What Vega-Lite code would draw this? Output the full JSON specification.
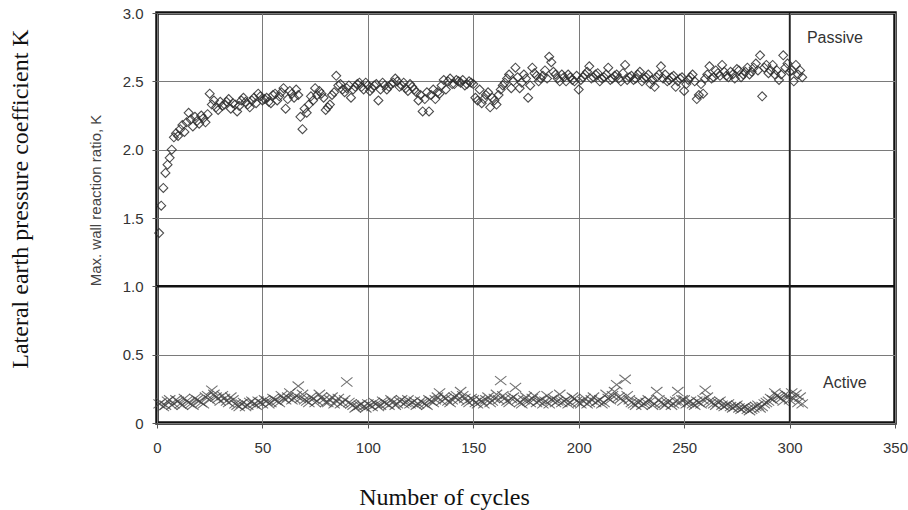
{
"$schema": "https://vega.github.io/schema/vega-lite/v6.json",
"width": 738,
"height": 410,
"autosize": {"type": "none"},
"padding": {"left": 157, "top": 13, "right": 13, "bottom": 87},
"background": "white",
"title": {"text": "Lateral earth pressure coefficient K", "orient": "left", "anchor": "middle", "font": "Liberation Serif", "fontSize": 24, "fontWeight": "normal", "color": "#111", "offset": 55, "dx": 19},
"config": {"view": {"stroke": "#111", "strokeWidth": 3.5, "fill": "white"}},
"datasets": {
"passive": [
{"c":1,"k":1.39},{"c":2,"k":1.59},{"c":3,"k":1.72},{"c":4,"k":1.83},{"c":5,"k":1.89},{"c":6,"k":1.94},{"c":7,"k":2.0},{"c":8,"k":2.09},{"c":9,"k":2.12},{"c":10,"k":2.1},
{"c":11,"k":2.15},{"c":12,"k":2.18},{"c":13,"k":2.13},{"c":14,"k":2.2},{"c":15,"k":2.27},{"c":16,"k":2.22},{"c":17,"k":2.17},{"c":18,"k":2.24},{"c":19,"k":2.21},{"c":20,"k":2.19},
{"c":21,"k":2.25},{"c":22,"k":2.23},{"c":23,"k":2.2},{"c":24,"k":2.26},{"c":25,"k":2.41},{"c":26,"k":2.33},{"c":27,"k":2.36},{"c":28,"k":2.31},{"c":29,"k":2.29},{"c":30,"k":2.35},
{"c":32,"k":2.33},{"c":34,"k":2.37},{"c":36,"k":2.34},{"c":38,"k":2.28},{"c":40,"k":2.36},{"c":42,"k":2.35},{"c":44,"k":2.31},{"c":46,"k":2.38},{"c":48,"k":2.41},{"c":50,"k":2.36},
{"c":52,"k":2.38},{"c":54,"k":2.34},{"c":56,"k":2.41},{"c":58,"k":2.39},{"c":60,"k":2.45},{"c":61,"k":2.3},{"c":62,"k":2.37},{"c":64,"k":2.41},{"c":66,"k":2.44},{"c":67,"k":2.4},
{"c":68,"k":2.24},{"c":69,"k":2.15},{"c":70,"k":2.3},{"c":72,"k":2.33},{"c":74,"k":2.36},{"c":75,"k":2.45},{"c":76,"k":2.4},{"c":78,"k":2.41},{"c":80,"k":2.29},{"c":82,"k":2.33},
{"c":84,"k":2.42},{"c":85,"k":2.54},{"c":86,"k":2.47},{"c":88,"k":2.44},{"c":90,"k":2.45},{"c":92,"k":2.38},{"c":94,"k":2.46},{"c":96,"k":2.49},{"c":98,"k":2.44},{"c":100,"k":2.47},
{"c":102,"k":2.45},{"c":104,"k":2.48},{"c":105,"k":2.36},{"c":106,"k":2.44},{"c":108,"k":2.47},{"c":110,"k":2.46},{"c":112,"k":2.49},{"c":113,"k":2.52},{"c":114,"k":2.5},{"c":116,"k":2.47},
{"c":118,"k":2.45},{"c":120,"k":2.48},{"c":122,"k":2.44},{"c":124,"k":2.36},{"c":126,"k":2.28},{"c":128,"k":2.42},{"c":129,"k":2.28},{"c":130,"k":2.4},{"c":132,"k":2.37},{"c":134,"k":2.41},
{"c":136,"k":2.51},{"c":137,"k":2.44},{"c":138,"k":2.5},{"c":140,"k":2.48},{"c":142,"k":2.51},{"c":144,"k":2.49},{"c":146,"k":2.47},{"c":148,"k":2.5},{"c":150,"k":2.48},{"c":151,"k":2.38},
{"c":152,"k":2.36},{"c":154,"k":2.34},{"c":156,"k":2.4},{"c":158,"k":2.31},{"c":160,"k":2.36},{"c":162,"k":2.4},{"c":164,"k":2.47},{"c":166,"k":2.52},{"c":168,"k":2.45},{"c":170,"k":2.6},
{"c":172,"k":2.45},{"c":174,"k":2.55},{"c":176,"k":2.38},{"c":178,"k":2.6},{"c":180,"k":2.54},{"c":182,"k":2.52},{"c":184,"k":2.58},{"c":186,"k":2.68},{"c":187,"k":2.64},{"c":188,"k":2.57},
{"c":190,"k":2.52},{"c":192,"k":2.55},{"c":194,"k":2.5},{"c":196,"k":2.53},{"c":198,"k":2.5},{"c":200,"k":2.44},{"c":202,"k":2.53},{"c":204,"k":2.57},{"c":205,"k":2.61},{"c":206,"k":2.52},
{"c":208,"k":2.55},{"c":210,"k":2.5},{"c":212,"k":2.53},{"c":214,"k":2.6},{"c":216,"k":2.52},{"c":218,"k":2.55},{"c":220,"k":2.5},{"c":222,"k":2.62},{"c":224,"k":2.53},{"c":226,"k":2.51},
{"c":228,"k":2.55},{"c":230,"k":2.5},{"c":232,"k":2.53},{"c":234,"k":2.48},{"c":236,"k":2.46},{"c":238,"k":2.55},{"c":239,"k":2.61},{"c":240,"k":2.52},{"c":242,"k":2.5},{"c":244,"k":2.53},
{"c":246,"k":2.46},{"c":248,"k":2.52},{"c":250,"k":2.43},{"c":252,"k":2.51},{"c":254,"k":2.55},{"c":256,"k":2.37},{"c":258,"k":2.48},{"c":259,"k":2.41},{"c":260,"k":2.52},{"c":262,"k":2.61},
{"c":264,"k":2.53},{"c":266,"k":2.56},{"c":268,"k":2.62},{"c":270,"k":2.54},{"c":272,"k":2.57},{"c":274,"k":2.52},{"c":276,"k":2.58},{"c":278,"k":2.55},{"c":280,"k":2.6},{"c":282,"k":2.57},
{"c":284,"k":2.63},{"c":286,"k":2.69},{"c":287,"k":2.39},{"c":288,"k":2.6},{"c":290,"k":2.56},{"c":292,"k":2.62},{"c":294,"k":2.58},{"c":295,"k":2.51},{"c":296,"k":2.55},{"c":297,"k":2.69},
{"c":298,"k":2.6},{"c":300,"k":2.57},{"c":301,"k":2.58},{"c":302,"k":2.5},{"c":303,"k":2.62},{"c":304,"k":2.55},{"c":305,"k":2.58},{"c":306,"k":2.53},
{"c":31,"k":2.32},{"c":33,"k":2.35},{"c":35,"k":2.3},{"c":37,"k":2.33},{"c":39,"k":2.32},{"c":41,"k":2.38},{"c":43,"k":2.33},{"c":45,"k":2.36},{"c":47,"k":2.34},{"c":49,"k":2.39},
{"c":51,"k":2.37},{"c":53,"k":2.35},{"c":55,"k":2.4},{"c":57,"k":2.36},{"c":59,"k":2.42},{"c":63,"k":2.43},{"c":65,"k":2.38},{"c":71,"k":2.27},{"c":73,"k":2.39},{"c":77,"k":2.43},
{"c":79,"k":2.38},{"c":81,"k":2.31},{"c":83,"k":2.4},{"c":87,"k":2.48},{"c":89,"k":2.42},{"c":91,"k":2.47},{"c":93,"k":2.44},{"c":95,"k":2.48},{"c":97,"k":2.46},{"c":99,"k":2.49},
{"c":101,"k":2.43},{"c":103,"k":2.47},{"c":107,"k":2.49},{"c":109,"k":2.44},{"c":111,"k":2.48},{"c":115,"k":2.46},{"c":117,"k":2.49},{"c":119,"k":2.43},{"c":121,"k":2.46},{"c":123,"k":2.42},
{"c":125,"k":2.4},{"c":127,"k":2.37},{"c":131,"k":2.44},{"c":133,"k":2.42},{"c":135,"k":2.47},{"c":139,"k":2.52},{"c":141,"k":2.48},{"c":143,"k":2.5},{"c":145,"k":2.51},{"c":147,"k":2.48},
{"c":149,"k":2.49},{"c":153,"k":2.44},{"c":155,"k":2.37},{"c":157,"k":2.42},{"c":159,"k":2.38},{"c":161,"k":2.33},{"c":163,"k":2.44},{"c":165,"k":2.49},{"c":167,"k":2.55},{"c":169,"k":2.5},
{"c":171,"k":2.53},{"c":173,"k":2.49},{"c":175,"k":2.52},{"c":177,"k":2.47},{"c":179,"k":2.56},{"c":181,"k":2.5},{"c":183,"k":2.54},{"c":185,"k":2.52},{"c":189,"k":2.55},{"c":191,"k":2.5},
{"c":193,"k":2.53},{"c":195,"k":2.55},{"c":197,"k":2.51},{"c":199,"k":2.54},{"c":201,"k":2.51},{"c":203,"k":2.55},{"c":207,"k":2.53},{"c":209,"k":2.56},{"c":211,"k":2.52},{"c":213,"k":2.55},
{"c":215,"k":2.51},{"c":217,"k":2.54},{"c":219,"k":2.52},{"c":221,"k":2.56},{"c":223,"k":2.51},{"c":225,"k":2.54},{"c":227,"k":2.52},{"c":229,"k":2.57},{"c":231,"k":2.52},{"c":233,"k":2.55},
{"c":235,"k":2.51},{"c":237,"k":2.53},{"c":241,"k":2.55},{"c":243,"k":2.51},{"c":245,"k":2.54},{"c":247,"k":2.5},{"c":249,"k":2.53},{"c":251,"k":2.48},{"c":253,"k":2.53},{"c":255,"k":2.5},
{"c":257,"k":2.4},{"c":261,"k":2.55},{"c":263,"k":2.52},{"c":265,"k":2.58},{"c":267,"k":2.54},{"c":269,"k":2.57},{"c":271,"k":2.53},{"c":273,"k":2.55},{"c":275,"k":2.59},{"c":277,"k":2.53},
{"c":279,"k":2.57},{"c":281,"k":2.55},{"c":283,"k":2.6},{"c":285,"k":2.58},{"c":289,"k":2.62},{"c":291,"k":2.58},{"c":293,"k":2.55},{"c":299,"k":2.63}
],
"active": [
{"c":1,"k":0.14},{"c":3,"k":0.12},{"c":5,"k":0.16},{"c":7,"k":0.13},{"c":9,"k":0.17},{"c":11,"k":0.14},{"c":13,"k":0.18},{"c":15,"k":0.15},{"c":17,"k":0.13},{"c":19,"k":0.17},
{"c":21,"k":0.15},{"c":23,"k":0.19},{"c":25,"k":0.17},{"c":26,"k":0.24},{"c":27,"k":0.21},{"c":29,"k":0.18},{"c":31,"k":0.2},{"c":33,"k":0.16},{"c":35,"k":0.19},{"c":37,"k":0.14},
{"c":39,"k":0.12},{"c":41,"k":0.15},{"c":43,"k":0.13},{"c":45,"k":0.16},{"c":47,"k":0.13},{"c":49,"k":0.15},{"c":51,"k":0.17},{"c":53,"k":0.14},{"c":55,"k":0.18},{"c":57,"k":0.16},
{"c":59,"k":0.2},{"c":61,"k":0.17},{"c":63,"k":0.22},{"c":65,"k":0.18},{"c":67,"k":0.27},{"c":69,"k":0.21},{"c":71,"k":0.16},{"c":73,"k":0.19},{"c":75,"k":0.15},{"c":77,"k":0.21},
{"c":79,"k":0.17},{"c":81,"k":0.15},{"c":83,"k":0.19},{"c":85,"k":0.16},{"c":87,"k":0.14},{"c":89,"k":0.17},{"c":90,"k":0.3},{"c":91,"k":0.15},{"c":93,"k":0.13},{"c":95,"k":0.12},
{"c":97,"k":0.14},{"c":99,"k":0.11},{"c":101,"k":0.13},{"c":103,"k":0.15},{"c":105,"k":0.12},{"c":107,"k":0.16},{"c":109,"k":0.14},{"c":111,"k":0.17},{"c":113,"k":0.13},{"c":115,"k":0.16},
{"c":117,"k":0.14},{"c":119,"k":0.17},{"c":121,"k":0.15},{"c":123,"k":0.13},{"c":125,"k":0.16},{"c":127,"k":0.14},{"c":129,"k":0.17},{"c":131,"k":0.15},{"c":133,"k":0.19},{"c":134,"k":0.22},
{"c":135,"k":0.16},{"c":137,"k":0.18},{"c":139,"k":0.15},{"c":141,"k":0.19},{"c":143,"k":0.17},{"c":144,"k":0.23},{"c":145,"k":0.2},{"c":147,"k":0.16},{"c":149,"k":0.18},{"c":151,"k":0.15},
{"c":153,"k":0.17},{"c":155,"k":0.14},{"c":157,"k":0.19},{"c":159,"k":0.16},{"c":161,"k":0.21},{"c":163,"k":0.31},{"c":165,"k":0.18},{"c":167,"k":0.15},{"c":169,"k":0.19},{"c":170,"k":0.26},
{"c":171,"k":0.17},{"c":173,"k":0.14},{"c":175,"k":0.19},{"c":177,"k":0.15},{"c":179,"k":0.2},{"c":181,"k":0.16},{"c":183,"k":0.14},{"c":185,"k":0.2},{"c":187,"k":0.17},{"c":189,"k":0.15},
{"c":191,"k":0.21},{"c":193,"k":0.16},{"c":195,"k":0.14},{"c":197,"k":0.19},{"c":199,"k":0.16},{"c":201,"k":0.14},{"c":203,"k":0.18},{"c":205,"k":0.15},{"c":207,"k":0.19},{"c":209,"k":0.16},
{"c":211,"k":0.14},{"c":213,"k":0.21},{"c":215,"k":0.17},{"c":217,"k":0.23},{"c":218,"k":0.28},{"c":219,"k":0.19},{"c":221,"k":0.16},{"c":222,"k":0.32},{"c":223,"k":0.2},{"c":225,"k":0.15},
{"c":227,"k":0.13},{"c":229,"k":0.16},{"c":231,"k":0.14},{"c":233,"k":0.17},{"c":235,"k":0.13},{"c":237,"k":0.23},{"c":239,"k":0.15},{"c":241,"k":0.13},{"c":243,"k":0.16},{"c":245,"k":0.14},
{"c":247,"k":0.23},{"c":249,"k":0.17},{"c":251,"k":0.14},{"c":253,"k":0.16},{"c":255,"k":0.13},{"c":257,"k":0.15},{"c":259,"k":0.17},{"c":260,"k":0.24},{"c":261,"k":0.19},{"c":263,"k":0.15},
{"c":265,"k":0.13},{"c":267,"k":0.16},{"c":269,"k":0.12},{"c":271,"k":0.14},{"c":273,"k":0.11},{"c":275,"k":0.13},{"c":277,"k":0.1},{"c":279,"k":0.12},{"c":281,"k":0.09},{"c":283,"k":0.11},
{"c":285,"k":0.13},{"c":287,"k":0.12},{"c":289,"k":0.15},{"c":291,"k":0.18},{"c":293,"k":0.22},{"c":295,"k":0.19},{"c":297,"k":0.16},{"c":299,"k":0.2},{"c":301,"k":0.22},{"c":302,"k":0.18},
{"c":303,"k":0.21},{"c":304,"k":0.15},{"c":305,"k":0.19},{"c":306,"k":0.14},
{"c":2,"k":0.15},{"c":4,"k":0.13},{"c":6,"k":0.17},{"c":8,"k":0.14},{"c":10,"k":0.16},{"c":12,"k":0.13},{"c":14,"k":0.16},{"c":16,"k":0.14},{"c":18,"k":0.18},{"c":20,"k":0.16},
{"c":22,"k":0.14},{"c":24,"k":0.2},{"c":28,"k":0.19},{"c":30,"k":0.16},{"c":32,"k":0.18},{"c":34,"k":0.15},{"c":36,"k":0.17},{"c":38,"k":0.13},{"c":40,"k":0.14},{"c":42,"k":0.12},
{"c":44,"k":0.15},{"c":46,"k":0.14},{"c":48,"k":0.16},{"c":50,"k":0.14},{"c":52,"k":0.16},{"c":54,"k":0.15},{"c":56,"k":0.17},{"c":58,"k":0.15},{"c":60,"k":0.18},{"c":62,"k":0.19},
{"c":64,"k":0.17},{"c":66,"k":0.2},{"c":68,"k":0.18},{"c":70,"k":0.17},{"c":72,"k":0.15},{"c":74,"k":0.18},{"c":76,"k":0.16},{"c":78,"k":0.19},{"c":80,"k":0.15},{"c":82,"k":0.17},
{"c":84,"k":0.14},{"c":86,"k":0.18},{"c":88,"k":0.15},{"c":92,"k":0.14},{"c":94,"k":0.11},{"c":96,"k":0.13},{"c":98,"k":0.12},{"c":100,"k":0.14},{"c":102,"k":0.12},{"c":104,"k":0.14},
{"c":106,"k":0.13},{"c":108,"k":0.15},{"c":110,"k":0.13},{"c":112,"k":0.15},{"c":114,"k":0.14},{"c":116,"k":0.17},{"c":118,"k":0.15},{"c":120,"k":0.14},{"c":122,"k":0.16},{"c":124,"k":0.14},
{"c":126,"k":0.15},{"c":128,"k":0.13},{"c":130,"k":0.16},{"c":132,"k":0.17},{"c":136,"k":0.19},{"c":138,"k":0.16},{"c":140,"k":0.17},{"c":142,"k":0.2},{"c":146,"k":0.18},{"c":148,"k":0.15},
{"c":150,"k":0.17},{"c":152,"k":0.14},{"c":154,"k":0.16},{"c":156,"k":0.17},{"c":158,"k":0.15},{"c":160,"k":0.18},{"c":162,"k":0.17},{"c":164,"k":0.2},{"c":166,"k":0.16},{"c":168,"k":0.18},
{"c":172,"k":0.15},{"c":174,"k":0.17},{"c":176,"k":0.16},{"c":178,"k":0.18},{"c":180,"k":0.15},{"c":182,"k":0.17},{"c":184,"k":0.16},{"c":186,"k":0.14},{"c":188,"k":0.18},{"c":190,"k":0.16},
{"c":192,"k":0.15},{"c":194,"k":0.17},{"c":196,"k":0.15},{"c":198,"k":0.18},{"c":200,"k":0.15},{"c":202,"k":0.16},{"c":204,"k":0.14},{"c":206,"k":0.17},{"c":208,"k":0.15},{"c":210,"k":0.17},
{"c":212,"k":0.15},{"c":214,"k":0.18},{"c":216,"k":0.2},{"c":220,"k":0.18},{"c":224,"k":0.17},{"c":226,"k":0.14},{"c":228,"k":0.15},{"c":230,"k":0.13},{"c":232,"k":0.15},{"c":234,"k":0.16},
{"c":236,"k":0.14},{"c":238,"k":0.17},{"c":240,"k":0.14},{"c":242,"k":0.15},{"c":244,"k":0.13},{"c":246,"k":0.16},{"c":248,"k":0.15},{"c":250,"k":0.17},{"c":252,"k":0.15},{"c":254,"k":0.14},
{"c":256,"k":0.16},{"c":258,"k":0.14},{"c":262,"k":0.16},{"c":264,"k":0.14},{"c":266,"k":0.15},{"c":268,"k":0.13},{"c":270,"k":0.13},{"c":272,"k":0.12},{"c":274,"k":0.12},{"c":276,"k":0.11},
{"c":278,"k":0.11},{"c":280,"k":0.1},{"c":282,"k":0.1},{"c":284,"k":0.12},{"c":286,"k":0.11},{"c":288,"k":0.14},{"c":290,"k":0.16},{"c":292,"k":0.17},{"c":294,"k":0.2},{"c":296,"k":0.18},
{"c":298,"k":0.21},{"c":300,"k":0.17}
],
"labels": [
{"c":321.5,"k":2.817,"label":"Passive"},
{"c":326.2,"k":0.293,"label":"Active"}
],
"vrule": [{"c":300,"k":0,"k2":3}],
"hrule": [{"c":0,"c2":350,"k":1}]
},
"encoding": {
"x": {"field": "c", "type": "quantitative", "scale": {"domain": [0, 350], "nice": false, "zero": false},
"axis": {"values": [0, 50, 100, 150, 200, 250, 300, 350], "grid": true, "gridColor": "#7a7a7a", "gridWidth": 1, "domain": false, "ticks": true, "tickSize": 5, "tickColor": "#555", "labelFont": "Liberation Sans", "labelFontSize": 15, "labelColor": "#333", "labelPadding": 12, "labelOverlap": false, "labelFlush": false, "title": "Number of cycles", "titleFont": "Liberation Serif", "titleFontSize": 24, "titleFontWeight": "normal", "titleColor": "#111", "titleX": 287, "titleY": 74, "titleAlign": "center", "titleBaseline": "middle"}},
"y": {"field": "k", "type": "quantitative", "scale": {"domain": [0, 3], "nice": false},
"axis": {"values": [0, 0.5, 1, 1.5, 2, 2.5, 3], "labelExpr": "datum.value == 0 ? '0' : format(datum.value, '.1f')", "grid": true, "gridColor": "#7a7a7a", "gridWidth": 1, "domain": false, "ticks": true, "tickSize": 5, "tickColor": "#555", "labelFont": "Liberation Sans", "labelFontSize": 15, "labelColor": "#333", "labelPadding": 9, "labelOverlap": false, "labelFlush": false, "title": "Max. wall reaction ratio, K", "titleFont": "Liberation Sans", "titleFontSize": 15, "titleFontWeight": "normal", "titleColor": "#444", "titleX": -62, "titleY": 187, "titleAngle": -90, "titleAlign": "center", "titleBaseline": "middle"}}
},
"layer": [
{
"data": {"name": "hrule"},
"mark": {"type": "rule", "stroke": "#111", "strokeWidth": 2.5},
"encoding": {"x2": {"field": "c2"}}
},
{
"data": {"name": "vrule"},
"mark": {"type": "rule", "stroke": "#222", "strokeWidth": 1.5},
"encoding": {"y2": {"field": "k2"}}
},
{
"data": {"name": "passive"},
"mark": {"type": "point", "shape": "diamond", "filled": false, "size": 80, "stroke": "#2e2e2e", "strokeWidth": 1.1, "opacity": 0.85}
},
{
"data": {"name": "active"},
"mark": {"type": "point", "shape": "M-1,-0.8L1,0.8M-1,0.8L1,-0.8", "filled": false, "size": 130, "stroke": "#444", "strokeWidth": 1.1, "opacity": 0.75}
},
{
"data": {"name": "labels"},
"mark": {"type": "text", "font": "Liberation Sans", "fontSize": 16, "color": "#333", "align": "center", "baseline": "middle"},
"encoding": {"text": {"field": "label"}}
}
]
}
